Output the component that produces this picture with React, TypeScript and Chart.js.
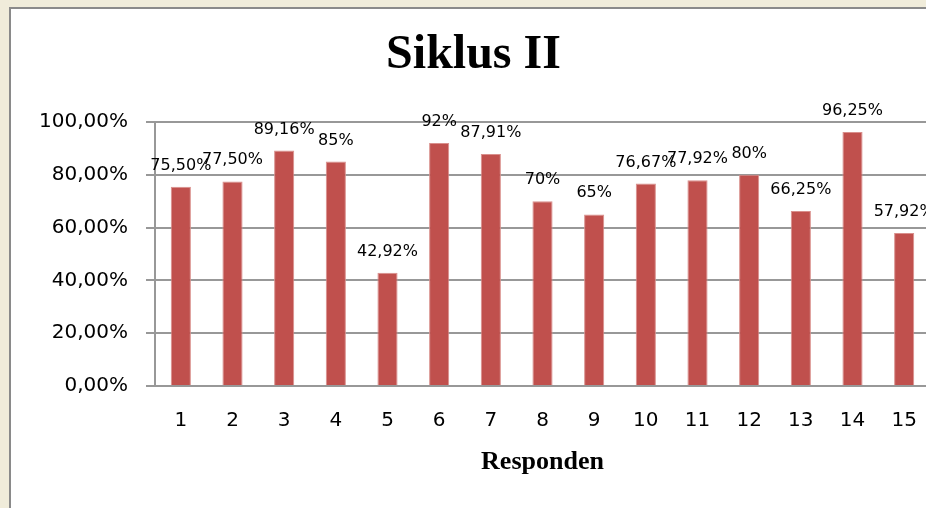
import React, { useEffect, useRef } from "react";
import { Chart, registerables } from "chart.js";

Chart.register(...registerables);

const categories = ["1", "2", "3", "4", "5", "6", "7", "8", "9", "10", "11", "12", "13", "14", "15"];
const values = [75.5, 77.5, 89.16, 85, 42.92, 92, 87.91, 70, 65, 76.67, 77.92, 80, 66.25, 96.25, 57.92];
const valueLabels = ["75,50%", "77,50%", "89,16%", "85%", "42,92%", "92%", "87,91%", "70%", "65%", "76,67%", "77,92%", "80%", "66,25%", "96,25%", "57,92%"];
const yTickValues = [0, 20, 40, 60, 80, 100];
const chartTitle = "Siklus II";
const xTitle = "Responden";

const SANS = "'DejaVu Sans', sans-serif";
const SERIF = "'Liberation Serif', 'Times New Roman', serif";
const GRID = "#989898";

const dataLabelPlugin = {
  id: "dataLabels",
  afterDatasetsDraw(chart: any) {
    const ctx = chart.ctx;
    const meta = chart.getDatasetMeta(0);
    ctx.save();
    ctx.font = `16px ${SANS}`;
    ctx.fillStyle = "#000";
    ctx.textAlign = "center";
    ctx.textBaseline = "alphabetic";
    meta.data.forEach((bar: any, i: number) => {
      ctx.fillText(valueLabels[i], bar.x, bar.y - 17);
    });
    ctx.restore();
  },
};

export default function App() {
  const ref = useRef<HTMLCanvasElement>(null);
  useEffect(() => {
    if (!ref.current) return;
    const chart = new Chart(ref.current, {
      type: "bar",
      data: {
        labels: categories,
        datasets: [
          {
            data: values,
            backgroundColor: "#C0504D",
            borderColor: "#D98F8C",
            borderWidth: 1,
            categoryPercentage: 1,
            barPercentage: 0.39,
          },
        ],
      },
      options: {
        responsive: false,
        animation: false,
        layout: { padding: { left: 6, right: 12, top: 0, bottom: 0 } },
        plugins: {
          legend: { display: false },
          tooltip: { enabled: false },
          title: {
            display: true,
            text: chartTitle,
            color: "#000",
            font: { family: SERIF, size: 48, weight: "bold", lineHeight: 1.2 },
            padding: { top: 18, bottom: 37.4 },
          },
        },
        scales: {
          x: {
            afterFit(scale: any) {
              scale.height = 122;
            },
            grid: { display: false },
            border: { display: true, color: GRID, width: 2 },
            ticks: { color: "#000", font: { family: SANS, size: 20 }, padding: 15, maxRotation: 0 },
            title: {
              display: true,
              text: xTitle,
              color: "#000",
              font: { family: SERIF, size: 26, weight: "bold", lineHeight: 1.2 },
              padding: { top: 13, bottom: 30.4 },
            },
          },
          y: {
            min: 0,
            max: 100,
            afterFit(scale: any) {
              scale.width = 138;
            },
            afterBuildTicks(scale: any) {
              scale.ticks = yTickValues.map((v) => ({ value: v }));
            },
            grid: { color: GRID, lineWidth: 2, tickLength: 9, drawTicks: true },
            border: { display: true, color: GRID, width: 2 },
            ticks: {
              color: "#000",
              font: { family: SANS, size: 20 },
              padding: 18,
              callback: (v: any) => Number(v).toFixed(2).replace(".", ",") + "%",
            },
          },
        },
      },
      plugins: [dataLabelPlugin],
    });
    return () => chart.destroy();
  }, []);

  return (
    <div
      style={{
        position: "fixed",
        left: 0,
        top: 0,
        width: 926,
        height: 508,
        overflow: "hidden",
        background: "#f0ecda",
      }}
    >
      <div
        style={{
          position: "absolute",
          left: 9,
          top: 7,
          width: 931,
          height: 499,
          border: "2px solid #8a8a8a",
          background: "#fff",
        }}
      >
        <canvas ref={ref} width={931} height={499} style={{ display: "block" }} />
      </div>
    </div>
  );
}
